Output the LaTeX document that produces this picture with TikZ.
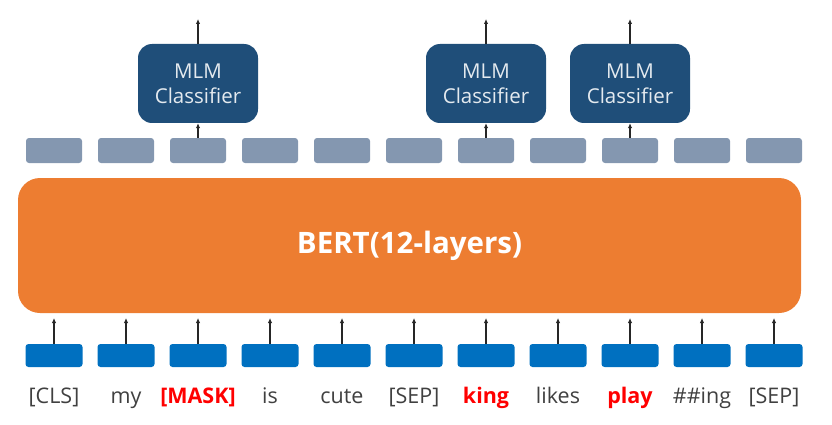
\documentclass[tikz,border=0pt]{standalone}
\usepackage{fontspec}
\setmainfont{Open Sans}
\usetikzlibrary{arrows.meta}
\definecolor{tokblue}{HTML}{0070C0}
\definecolor{outgray}{HTML}{8497B0}
\definecolor{bertorange}{HTML}{ED7D31}
\definecolor{mlmblue}{HTML}{1F4E79}
\definecolor{txtgray}{HTML}{404040}
\definecolor{maskred}{HTML}{FF0000}
\tikzset{
  tokbox/.style={fill=tokblue, rounded corners=3pt, minimum width=57pt, minimum height=23pt, inner sep=0pt},
  outbox/.style={fill=outgray, rounded corners=3pt, minimum width=56pt, minimum height=25pt, inner sep=0pt},
  mlmbox/.style={fill=mlmblue, rounded corners=14pt, minimum width=120pt, minimum height=79pt, inner sep=0pt,
     text=white!88!mlmblue, font=\fontsize{20.5}{25}\selectfont, align=center},
  toklabel/.style={text=txtgray, font=\fontsize{21.5}{24}\selectfont, inner sep=0pt, anchor=base},
  masklabel/.style={text=maskred, font=\fontsize{21.5}{24}\selectfont\bfseries, inner sep=0pt, anchor=base},
  arr/.style={-{Latex[length=5pt,width=4.5pt]}, line width=1.3pt, black!85}
}
\begin{document}
\begin{tikzpicture}[x=1pt,y=-1pt]
\useasboundingbox (0,0) rectangle (832,425);
% BERT
\node[fill=bertorange, rounded corners=22pt, minimum width=783pt, minimum height=135pt, inner sep=0pt,
      text=white, font=\fontsize{29.5}{32}\selectfont\bfseries] (bert) at (409.5,245.5) {BERT(12-layers)};
% tokens
\foreach \i/\t/\s in {0/{[CLS]}/toklabel,1/my/toklabel,2/{[MASK]}/masklabel,3/is/toklabel,4/cute/toklabel,5/{[SEP]}/toklabel,6/king/masklabel,7/likes/toklabel,8/play/masklabel,9/{\#\#ing}/toklabel,10/{[SEP]}/toklabel}{
  \pgfmathsetmacro{\cx}{54+72*\i}
  \node[tokbox] (t\i) at (\cx,355.5) {};
  \node[\s] (l\i) at (\cx,403) {\t};
  \coordinate (tip\i) at (\cx,318);
  \draw[arr] (t\i.north) -- (tip\i);
  \node[outbox] (o\i) at (\cx,150.5) {};
}
% MLM classifiers
\foreach \i in {2,6,8}{
  \pgfmathsetmacro{\cx}{54+72*\i}
  \node[mlmbox] (m\i) at (\cx,83.5) {MLM\\Classifier};
  \coordinate (top\i) at (\cx,19);
  \draw[arr] (o\i.north) -- (m\i.south);
  \draw[arr] (m\i.north) -- (top\i);
}
\end{tikzpicture}
\end{document}
